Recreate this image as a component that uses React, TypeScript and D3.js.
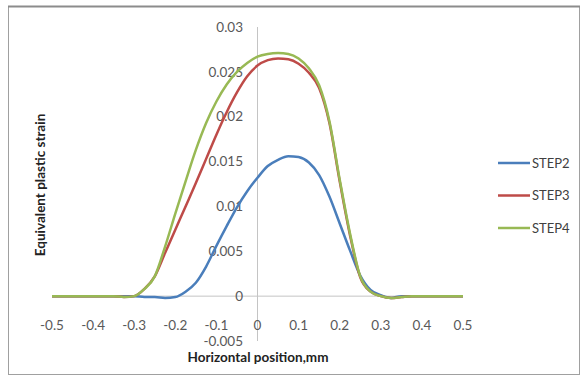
import React from "react";
import * as d3 from "d3";

const xValues = [-0.5, -0.45, -0.4, -0.35, -0.325, -0.3, -0.275, -0.25, -0.225, -0.2, -0.175, -0.15, -0.125, -0.1, -0.075, -0.05, -0.025, 0, 0.025, 0.05, 0.075, 0.1, 0.125, 0.15, 0.175, 0.2, 0.225, 0.25, 0.275, 0.3, 0.325, 0.35, 0.375, 0.4, 0.45, 0.5];

const step2 = [0, 0, 0, 0, 0, 0, -0.0001, -0.0001, -0.0002, -0.0001, 0.0005, 0.0015, 0.0033, 0.0056, 0.0078, 0.0099, 0.0117, 0.0132, 0.0145, 0.0152, 0.0156, 0.0155, 0.0149, 0.0135, 0.0111, 0.0081, 0.0051, 0.0023, 0.0007, 0.0001, -0.0002, 0, 0, 0, 0, 0];
const step3 = [0, 0, 0, 0, -0.0001, 0, 0.0008, 0.0022, 0.0048, 0.0074, 0.01, 0.0126, 0.0153, 0.018, 0.0205, 0.0227, 0.0245, 0.0257, 0.0263, 0.0265, 0.0264, 0.0259, 0.0249, 0.0232, 0.0193, 0.0128, 0.0068, 0.0021, 0.0005, 0, -0.0002, -0.0001, 0, 0, 0, 0];
const step4 = [0, 0, 0, 0, -0.0001, 0, 0.0008, 0.0022, 0.0055, 0.0092, 0.0128, 0.0163, 0.0193, 0.0217, 0.0236, 0.025, 0.026, 0.0267, 0.027, 0.0271, 0.027, 0.0265, 0.0254, 0.0235, 0.0195, 0.013, 0.007, 0.0022, 0.0005, 0, -0.0002, -0.0001, 0, 0, 0, 0];

const seriesNames = ["STEP2", "STEP3", "STEP4"];
const seriesColors = ["#4a7ebb", "#be4b48", "#98b954"];
const xTicks = [-0.5, -0.4, -0.3, -0.2, -0.1, 0, 0.1, 0.2, 0.3, 0.4, 0.5];
const yTicks = [-0.005, 0, 0.005, 0.01, 0.015, 0.02, 0.025, 0.03];
const xTitle = "Horizontal position,mm";
const yTitle = "Equivalent plastic strain";

export default function App() {
  const x = d3.scaleLinear().domain([-0.5, 0.5]).range([52, 463]);
  const y = d3.scaleLinear().domain([-0.005, 0.03]).range([341, 27]);
  const all = [step2, step3, step4];
  const line = d3
    .line<number>()
    .x((_, i) => x(xValues[i]))
    .y((d) => y(d))
    .curve(d3.curveMonotoneX);
  const font = "Lato, 'Open Sans', sans-serif";
  const fmt = (v: number) => (Math.abs(v) < 1e-9 ? "0" : String(+v.toFixed(3)));
  return (
    <svg
      width={582}
      height={383}
      style={{ position: "absolute", left: 0, top: 0, background: "#fff" }}
      fontFamily={font}
    >
      <rect x={0} y={0} width={582} height={383} fill="#fff" />
      <rect x={8.5} y={6.5} width={571} height={368} fill="#fff" stroke="#a0a0a0" strokeWidth={1} />
      <line x1={8} x2={580} y1={6.5} y2={6.5} stroke="#8c8c8c" strokeWidth={2} />
      <line x1={x(0)} x2={x(0)} y1={y(0.03)} y2={y(-0.005)} stroke="#c4c4c4" strokeWidth={1} />
      <line x1={x(-0.5)} x2={x(0.5)} y1={y(0)} y2={y(0)} stroke="#c4c4c4" strokeWidth={1} />
      {yTicks.map((t) => (
        <text key={"y" + t} x={243} y={y(t)} dy="0.35em" textAnchor="end" fontSize={13.5} fill="#595959">
          {fmt(t)}
        </text>
      ))}
      {xTicks.map((t) => (
        <text key={"x" + t} x={x(t)} y={325} dy="0.35em" textAnchor="middle" fontSize={13.5} fill="#595959">
          {fmt(t)}
        </text>
      ))}
      <text x={258} y={357} dy="0.35em" textAnchor="middle" fontSize={13.5} fontWeight="bold" fill="#222">
        {xTitle}
      </text>
      <text
        transform={`translate(40,185) rotate(-90)`}
        dy="0.35em"
        textAnchor="middle"
        fontSize={13.5}
        fontWeight="bold"
        fill="#222"
      >
        {yTitle}
      </text>
      {all.map((s, i) => (
        <path key={i} d={line(s) || ""} fill="none" stroke={seriesColors[i]} strokeWidth={2.5} />
      ))}
      {seriesNames.map((n, i) => (
        <g key={n}>
          <line x1={498} x2={530} y1={163 + i * 32.5} y2={163 + i * 32.5} stroke={seriesColors[i]} strokeWidth={2.5} />
          <text x={532} y={163 + i * 32.5} dy="0.35em" fontSize={13} fill="#404040">
            {n}
          </text>
        </g>
      ))}
    </svg>
  );
}
